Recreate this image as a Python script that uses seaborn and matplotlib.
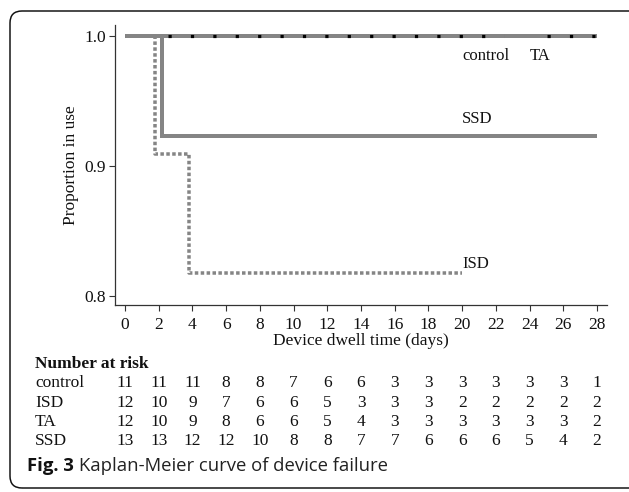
import numpy as np
import pandas as pd
import matplotlib
matplotlib.use("Agg")
import matplotlib.pyplot as plt
import seaborn as sns
from matplotlib.patches import FancyBboxPatch
from matplotlib.transforms import IdentityTransform, blended_transform_factory

# ---------------- data ----------------
day_ticks = list(range(0, 29, 2))
y_ticks = [0.8, 0.9, 1.0]

control_time = [0, 28]
control_surv = [1.0, 1.0]
ta_time = [0, 28]
ta_surv = [1.0, 1.0]
ssd_time = [0, 2.2, 28]
ssd_surv = [1.0, 0.923, 0.923]
isd_time = [0, 1.75, 3.8, 20]
isd_surv = [1.0, 0.909, 0.818, 0.818]

risk_groups = ["control", "ISD", "TA", "SSD"]
risk_control = [11, 11, 11, 8, 8, 7, 6, 6, 3, 3, 3, 3, 3, 3, 1]
risk_isd = [12, 10, 9, 7, 6, 6, 5, 3, 3, 3, 2, 2, 2, 2, 2]
risk_ta = [12, 10, 9, 8, 6, 6, 5, 4, 3, 3, 3, 3, 3, 3, 2]
risk_ssd = [13, 13, 12, 12, 10, 8, 8, 7, 7, 6, 6, 6, 5, 4, 2]
risk_rows = [risk_control, risk_isd, risk_ta, risk_ssd]

# ---------------- style ----------------
sns.set_theme(style="ticks")
plt.rcParams["font.family"] = ["Liberation Serif", "DejaVu Serif"]
plt.rcParams["lines.scale_dashes"] = False
plt.rcParams["axes.edgecolor"] = "#333333"

W, H, DPI = 629, 492, 100
fig = plt.figure(figsize=(W / DPI, H / DPI), dpi=DPI)
fig.patch.set_facecolor("white")

# axes placement in pixels
L, R, T, B = 115, 607, 25, 305
ax = fig.add_axes([L / W, 1 - B / H, (R - L) / W, (B - T) / H])
ax.set_facecolor("white")

GREY = "#858585"
PX = 72 / DPI  # points per pixel

def km(t, s, **kw):
    df = pd.DataFrame({"t": t, "s": s})
    sns.lineplot(data=df, x="t", y="s", drawstyle="steps-post",
                 estimator=None, sort=False, ax=ax, legend=False, **kw)
    return ax.lines[-1]

l_ctrl = km(control_time, control_surv, color=GREY, linewidth=4 * PX)
l_ssd = km(ssd_time, ssd_surv, color=GREY, linewidth=4 * PX)
l_isd = km(isd_time, isd_surv, color=GREY, linewidth=3.5 * PX)
l_ta = km(ta_time, ta_surv, color="black", linewidth=3.2 * PX)

for ln in (l_ctrl, l_ssd):
    ln.set_solid_capstyle("butt")
    ln.set_solid_joinstyle("miter")
l_isd.set_dashes([3.5 * PX, 2.4 * PX])
l_isd.set_dash_capstyle("butt")
ta_pattern = [0.01, 43 * PX] + [3.2 * PX, 19.2 * PX] * 19 + [3.2 * PX, 40 * PX]
l_ta.set_dashes(ta_pattern)
l_ta.set_dash_capstyle("butt")

ax.set_xlim(-0.593, 28.59)
ax.set_ylim(0.7931, 1.0085)
ax.set_xticks(day_ticks)
ax.set_xticklabels([str(d) for d in day_ticks])
ax.set_yticks(y_ticks)
ax.set_yticklabels([f"{v:.1f}" for v in y_ticks])
for side in ("top", "right"):
    ax.spines[side].set_visible(False)
for side in ("left", "bottom"):
    ax.spines[side].set_linewidth(0.9)
ax.tick_params(axis="both", direction="out", length=6 * PX, width=0.8,
               color="#333333", labelsize=12.5, labelcolor="#111111")
ax.tick_params(axis="x", pad=4)
ax.tick_params(axis="y", pad=2)
ax.set_xlabel("Device dwell time (days)", fontsize=12.5, color="#111111", labelpad=0)
ax.set_ylabel("Proportion in use", fontsize=12.5, color="#111111", labelpad=4)

# curve labels
lab = dict(fontsize=12, color="#111111", va="center", ha="left")
ax.text(20.0, 0.9846, "control", **lab)
ax.text(24.0, 0.9846, "TA", **lab)
ax.text(20.0, 0.936, "SSD", **lab)
ax.text(20.0, 0.8246, "ISD", **lab)

# number-at-risk table
def fy(py):
    return 1 - py / H

tr = blended_transform_factory(ax.transData, fig.transFigure)
fig.text(35 / W, fy(364), "Number at risk", fontsize=12.5, fontweight="bold",
         ha="left", va="center", color="#111111")
row_y = [383, 403, 422, 441]
for name, vals, py in zip(risk_groups, risk_rows, row_y):
    fig.text(35 / W, fy(py), name, fontsize=12.5, ha="left", va="center", color="#111111")
    for d, v in zip(day_ticks, vals):
        fig.text(d, fy(py), str(v), transform=tr, fontsize=12.5,
                 ha="center", va="center", color="#111111")

# caption, sized to span the same width as the reference
cap_x0, cap_x1, cap_y = 27, 388, 466
fs = 13.4
sans = ["Open Sans", "DejaVu Sans"]
cap1 = fig.text(cap_x0 / W, fy(cap_y), "Fig. 3", fontsize=fs, fontweight="bold",
                family=sans, ha="left", va="center", color="#111111")
fig.canvas.draw()
bb = cap1.get_window_extent()
cap2 = fig.text((bb.x1 + 5) / W, fy(cap_y), "Kaplan-Meier curve of device failure",
                fontsize=fs, family=sans, ha="left", va="center", color="#222222")
fig.canvas.draw()
bb2 = cap2.get_window_extent()
scale = (cap_x1 - cap_x0) / (bb2.x1 - cap_x0)
fs2 = fs * scale
cap1.set_fontsize(fs2)
fig.canvas.draw()
bb = cap1.get_window_extent()
cap2.set_fontsize(fs2)
cap2.set_x((bb.x1 + 5 * scale) / W)

# rounded frame
frame = FancyBboxPatch((10, H - 488), 660, 477, boxstyle="round,pad=0,rounding_size=12",
                       transform=IdentityTransform(), fill=False, edgecolor="#111111",
                       linewidth=1.5 * PX, zorder=10)
fig.patches.append(frame)

fig.savefig("out.png", dpi=DPI)
